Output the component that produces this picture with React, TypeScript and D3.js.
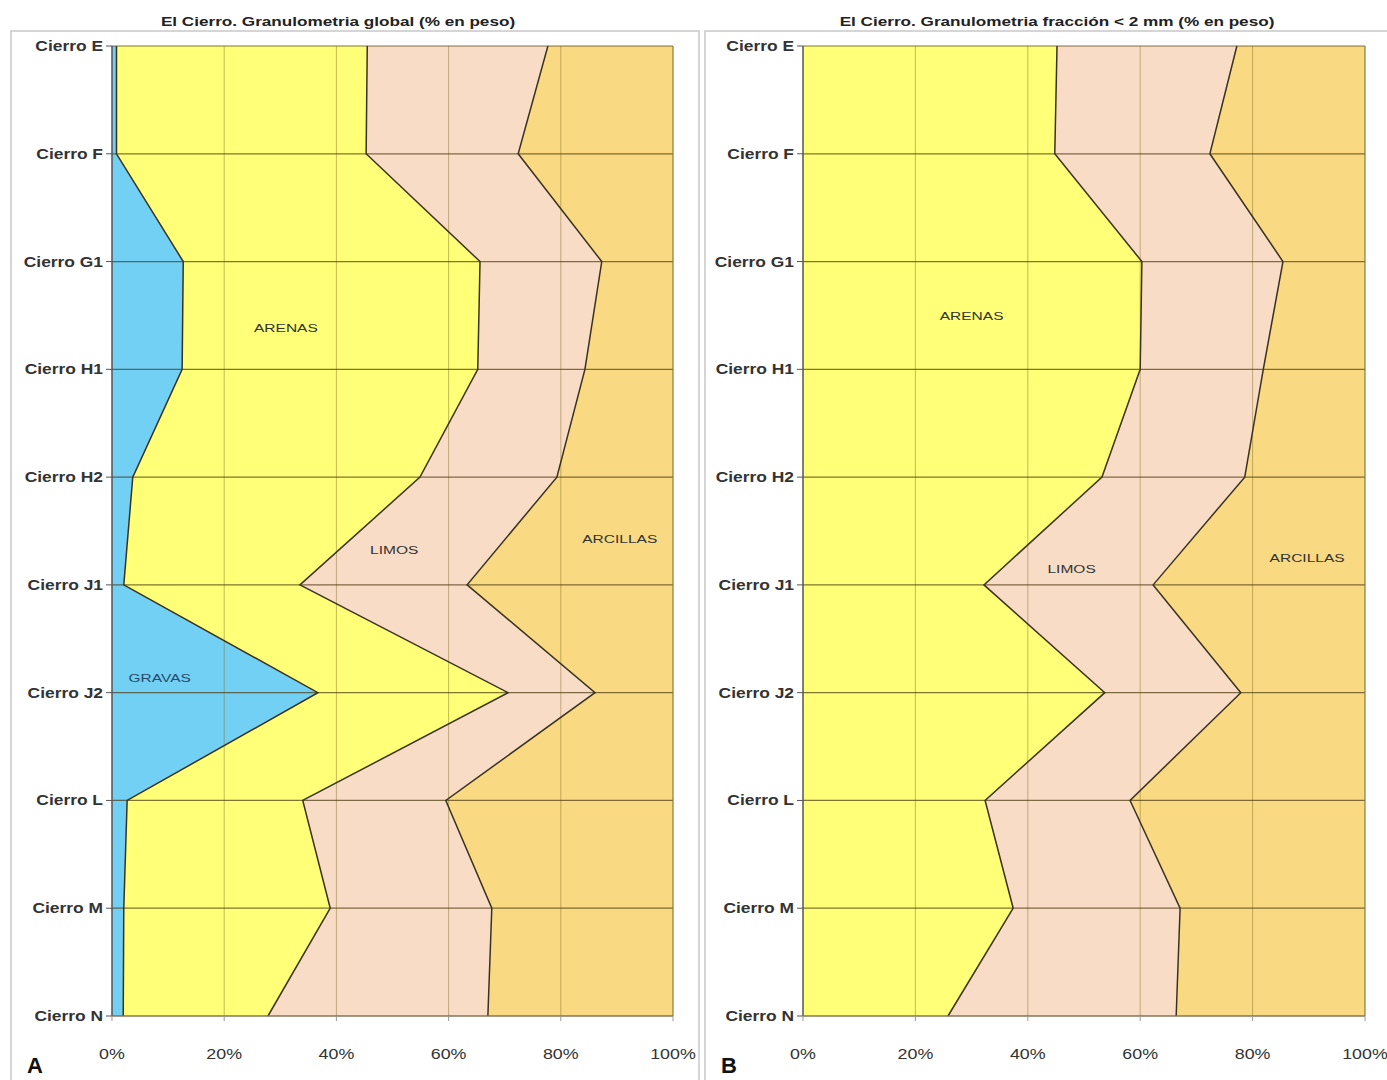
import React from "react";
import * as d3 from "d3";

const categories = ["Cierro E", "Cierro F", "Cierro G1", "Cierro H1", "Cierro H2", "Cierro J1", "Cierro J2", "Cierro L", "Cierro M", "Cierro N"];
const xTicks = [0, 20, 40, 60, 80, 100];

// Panel A – global granulometry (% weight)
const gravasA = [0.8, 0.8, 12.7, 12.5, 3.7, 2.1, 36.7, 2.7, 2.1, 2.0];
const arenasA = [44.7, 44.5, 52.9, 52.7, 51.2, 31.4, 33.9, 31.3, 36.8, 25.8];
const limosA = [32.2, 27.1, 21.7, 19.1, 24.4, 29.8, 15.5, 25.5, 28.8, 39.2];
const arcillasA = [22.3, 27.6, 12.7, 15.7, 20.7, 36.7, 13.9, 40.5, 32.3, 33.0];

// Panel B – fraction < 2 mm (% weight)
const arenasB = [45.2, 44.8, 60.3, 60.0, 53.2, 32.2, 53.7, 32.4, 37.4, 25.8];
const limosB = [32.0, 27.6, 25.1, 21.9, 25.4, 30.1, 24.2, 25.8, 29.7, 40.6];
const arcillasB = [22.8, 27.6, 14.6, 18.1, 21.4, 37.7, 22.1, 41.8, 32.9, 33.6];

const COLORS: Record<string, string> = {
  gravas: "#72d0f4",
  arenas: "#ffff78",
  limos: "#f9dcc6",
  arcillas: "#f9da82",
};

const FONT = "Arial, 'Liberation Sans', sans-serif";

type Panel = {
  title: string;
  titleX: number;
  letter: string;
  frameX: number;
  frameW: number;
  x0: number;
  x1: number;
  series: { key: string; values: number[] }[];
  labels: { text: string; cat: number; pct: number; dy: number }[];
};

const panels: Panel[] = [
  {
    title: "El Cierro. Granulometria global (% en peso)",
    titleX: 338,
    letter: "A",
    frameX: 11,
    frameW: 690,
    x0: 112,
    x1: 673,
    series: [
      { key: "gravas", values: gravasA },
      { key: "arenas", values: arenasA },
      { key: "limos", values: limosA },
      { key: "arcillas", values: arcillasA },
    ],
    labels: [
      { text: "ARENAS", cat: 3, pct: 31, dy: -37 },
      { text: "LIMOS", cat: 5, pct: 50.3, dy: -31 },
      { text: "ARCILLAS", cat: 5, pct: 90.5, dy: -42 },
      { text: "GRAVAS", cat: 6, pct: 8.5, dy: -11 },
    ],
  },
  {
    title: "El Cierro. Granulometria fracción < 2 mm (% en peso)",
    titleX: 1057,
    letter: "B",
    frameX: 705,
    frameW: 690,
    x0: 803,
    x1: 1365,
    series: [
      { key: "arenas", values: arenasB },
      { key: "limos", values: limosB },
      { key: "arcillas", values: arcillasB },
    ],
    labels: [
      { text: "ARENAS", cat: 3, pct: 30, dy: -49 },
      { text: "LIMOS", cat: 5, pct: 47.8, dy: -12 },
      { text: "ARCILLAS", cat: 5, pct: 89.7, dy: -23 },
    ],
  },
];

const Y_TOP = 46;
const Y_BOT = 1016;

function SText({ x, y, sx, children, ...rest }: any) {
  return (
    <text transform={`translate(${x},${y}) scale(${sx},1)`} x={0} y={0} fontFamily={FONT} {...rest}>
      {children}
    </text>
  );
}

function PanelView({ p }: { p: Panel }) {
  const x = d3.scaleLinear().domain([0, 100]).range([p.x0, p.x1]);
  const y = d3.scalePoint<string>().domain(categories).range([Y_TOP, Y_BOT]);

  const rows = categories.map((c, i) => {
    const r: any = { cat: c };
    p.series.forEach((s) => (r[s.key] = s.values[i]));
    return r;
  });
  const keys = p.series.map((s) => s.key);
  const stacked = d3.stack<any>().keys(keys)(rows);

  const area = d3
    .area<any>()
    .y((d) => y(d.data.cat) as number)
    .x0((d) => x(d[0]))
    .x1((d) => x(Math.min(100, d[1])));

  const boundary = d3
    .line<any>()
    .y((d) => y(d.data.cat) as number)
    .x((d) => x(Math.min(100, d[1])));

  return (
    <g>
      <rect x={p.frameX} y={31} width={p.frameW - 2} height={1060} fill="none" stroke="#c8c8c8" strokeWidth={1.5} />
      <SText x={p.titleX} y={26} sx={1.27} textAnchor="middle" fontWeight="bold" fontSize={13.5} fill="#222">
        {p.title}
      </SText>
      {stacked.map((s) => (
        <path key={s.key} d={area(s) as string} fill={COLORS[s.key]} />
      ))}
      {xTicks.slice(1, -1).map((t) => (
        <line key={"vg" + t} x1={x(t)} x2={x(t)} y1={Y_TOP} y2={Y_BOT} stroke="#7a6a20" strokeOpacity={0.45} strokeWidth={1} />
      ))}
      {categories.map((c) => (
        <line key={"hg" + c} x1={p.x0} x2={p.x1} y1={y(c)} y2={y(c)} stroke="#4a3a10" strokeOpacity={0.7} strokeWidth={1.2} />
      ))}
      {stacked.slice(0, -1).map((s) => (
        <path key={"b" + s.key} d={boundary(s) as string} fill="none" stroke="#3a3220" strokeWidth={1.5} />
      ))}
      <line x1={p.x1} x2={p.x1} y1={Y_TOP} y2={Y_BOT} stroke="#8a7a40" strokeWidth={1.2} />
      <line x1={p.x0} x2={p.x0} y1={Y_TOP} y2={Y_BOT} stroke="#555" strokeWidth={1.5} />
      <line x1={p.x0} x2={p.x1} y1={Y_BOT} y2={Y_BOT} stroke="#8a7a60" strokeWidth={1.2} />
      {categories.map((c) => (
        <g key={"yt" + c}>
          <line x1={p.x0 - 6} x2={p.x0} y1={y(c)} y2={y(c)} stroke="#555" strokeWidth={1} />
          <SText x={p.x0 - 9} y={(y(c) as number) + 5} sx={1.16} textAnchor="end" fontWeight="bold" fontSize={15} fill="#333">
            {c}
          </SText>
        </g>
      ))}
      {xTicks.map((t) => (
        <g key={"xt" + t}>
          <line x1={x(t)} x2={x(t)} y1={Y_BOT} y2={Y_BOT + 5} stroke="#999" strokeWidth={1} />
          <SText x={x(t)} y={1059} sx={1.19} textAnchor="middle" fontSize={15} fill="#333">
            {t}%
          </SText>
        </g>
      ))}
      <text x={p.frameX + 16} y={1073} fontFamily={FONT} fontWeight="bold" fontSize={22} fill="#111">
        {p.letter}
      </text>
      {p.labels.map((l) => (
        <SText key={l.text} x={x(l.pct)} y={(y(categories[l.cat]) as number) + l.dy} sx={1.35} textAnchor="middle" fontSize={11.5} fill={l.text === "GRAVAS" ? "#2a4a6a" : "#333"}>
          {l.text}
        </SText>
      ))}
    </g>
  );
}

export default function App() {
  return (
    <svg width={1387} height={1080} style={{ position: "absolute", left: 0, top: 0, background: "#fff" }}>
      <rect x={0} y={0} width={1387} height={1080} fill="#fff" />
      {panels.map((p) => (
        <PanelView key={p.letter} p={p} />
      ))}
    </svg>
  );
}
